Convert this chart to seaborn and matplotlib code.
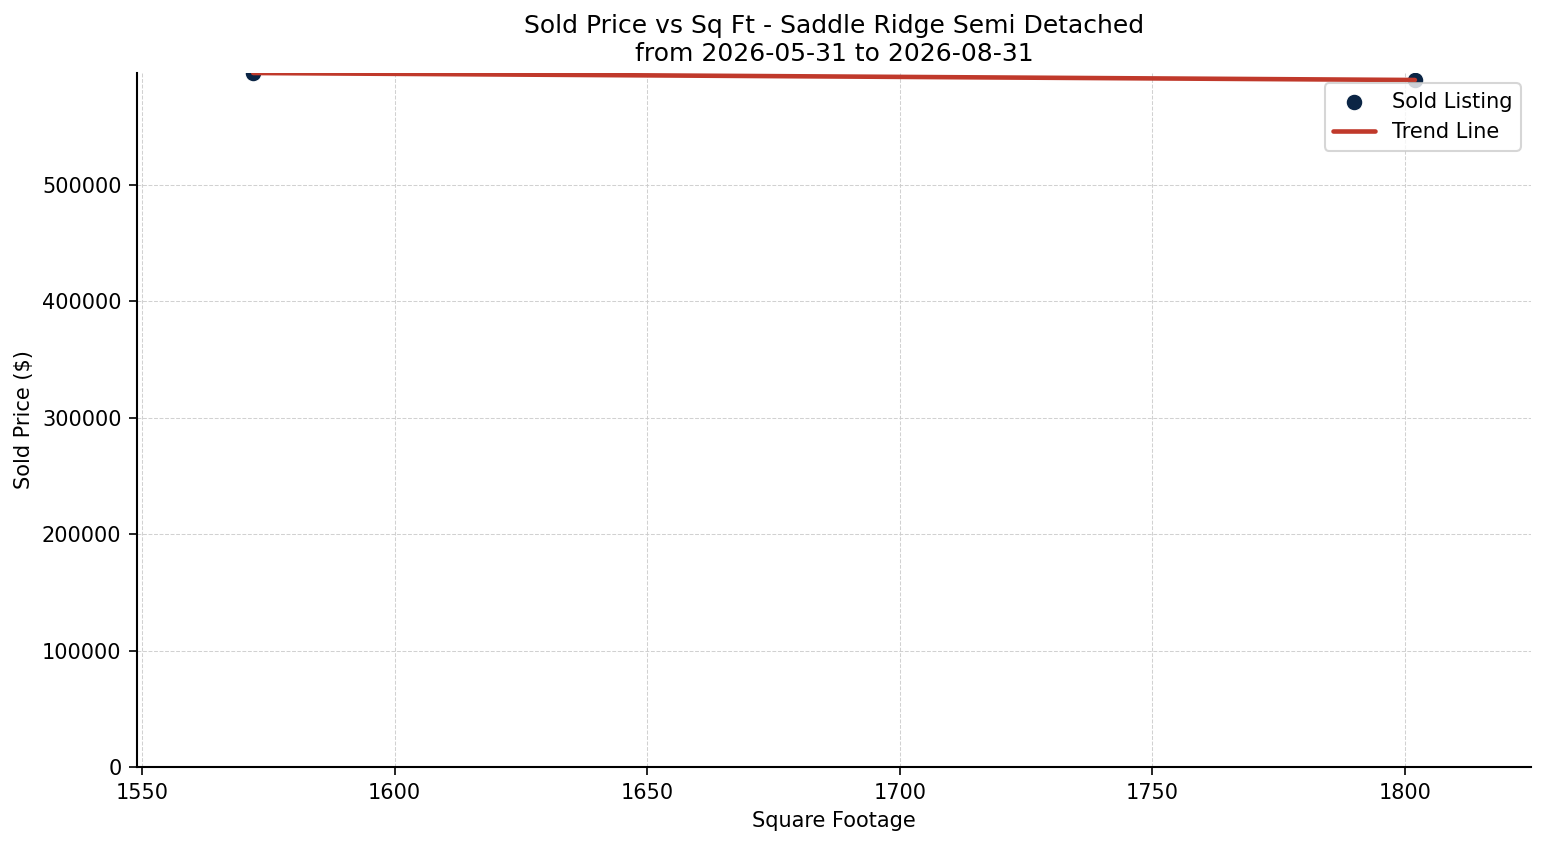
import numpy as np
import pandas as pd
import matplotlib
matplotlib.use("Agg")
import matplotlib.pyplot as plt
import seaborn as sns

# sold listings
sqft = [1572, 1802]
sold_price = [596000, 590000]

title = "Sold Price vs Sq Ft - Saddle Ridge Semi Detached\nfrom 2026-05-31 to 2026-08-31"

df = pd.DataFrame({"sqft": sqft, "price": sold_price})

sns.set_style("white")
plt.rcParams['font.family'] = ['DejaVu Sans']
plt.rcParams.update({"text.color": "black", "axes.labelcolor": "black",
                     "xtick.color": "black", "ytick.color": "black"})

fig = plt.figure(figsize=(1547 / 150, 845 / 150), dpi=150)
ax = fig.add_axes([0.0886, 0.0923, 0.9011, 0.8213])

sns.scatterplot(data=df, x="sqft", y="price", ax=ax, color="#0b2545", s=65,
                edgecolor="white", linewidth=0.6, label="Sold Listing", zorder=3)

# linear trend
m, b = np.polyfit(df["sqft"], df["price"], 1)
xs = np.array([df["sqft"].min(), df["sqft"].max()])
sns.lineplot(x=xs, y=m * xs + b, ax=ax, color="#c0392b", linewidth=2.2,
             label="Trend Line", zorder=4)

ax.set_ylim(0, max(sold_price))
span = max(sqft) - min(sqft)
ax.set_xlim(min(sqft) - 0.1 * span, max(sqft) + 0.1 * span)

ax.set_title(title, fontsize=12, color="black")
ax.set_xlabel("Square Footage", fontsize=10)
ax.set_ylabel("Sold Price ($)", fontsize=10)
ax.tick_params(labelsize=10, length=4, left=True, bottom=True, colors="black")
ax.grid(True, linestyle="--", linewidth=0.5, color="#cccccc", alpha=0.9)
ax.ticklabel_format(axis="y", style="plain")
sns.despine(ax=ax)
for s in ["left", "bottom"]:
    ax.spines[s].set_color("black")
    ax.spines[s].set_linewidth(1.0)

ax.legend(loc="upper right", fontsize=10, frameon=True)

fig.savefig("out.png", dpi=150)
